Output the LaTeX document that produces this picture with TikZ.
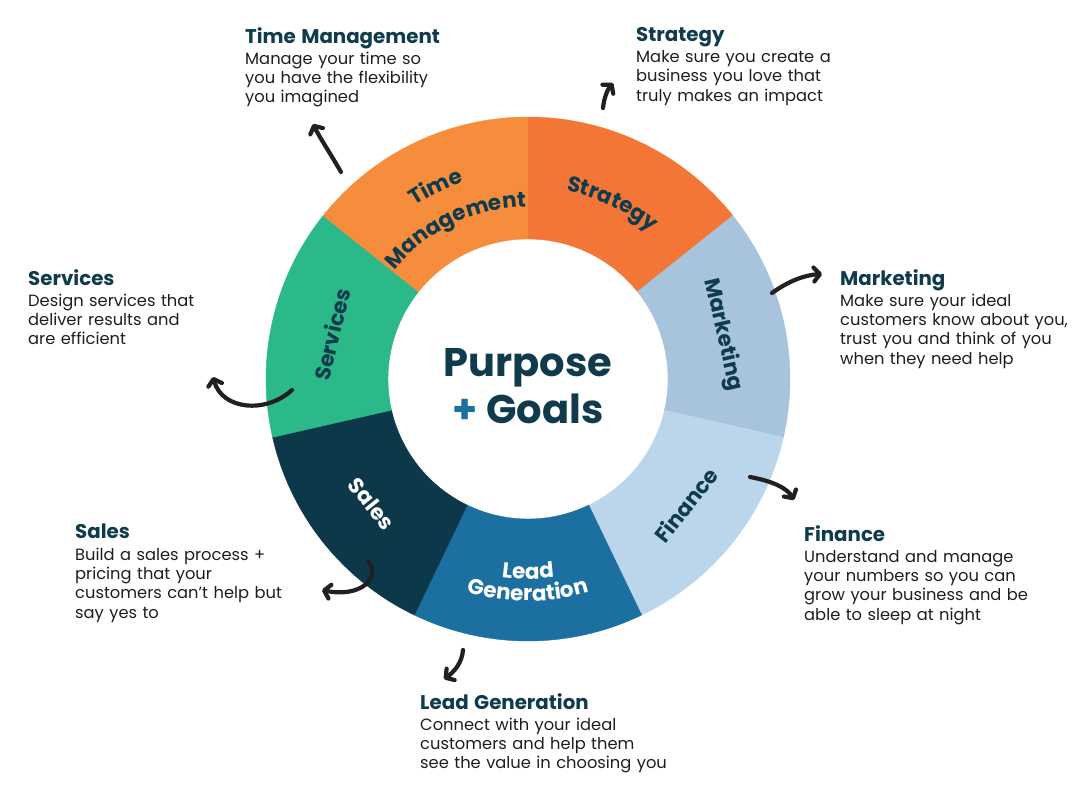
\documentclass[tikz,border=0pt]{standalone}
\usepackage{fontspec}
\setmainfont{Poppins}
\usetikzlibrary{arrows.meta,decorations.text,positioning}

\definecolor{navy}{HTML}{0F3B4C}
\definecolor{textblack}{HTML}{1E1E1E}
\definecolor{arrowblack}{HTML}{231F20}
\definecolor{stratC}{HTML}{F37636}
\definecolor{timeC}{HTML}{F68D3C}
\definecolor{mktC}{HTML}{A8C4DD}
\definecolor{finC}{HTML}{BBD6EB}
\definecolor{leadC}{HTML}{1B70A1}
\definecolor{salesC}{HTML}{0D3849}
\definecolor{servC}{HTML}{2BB98A}

\newcommand{\headfont}{\fontsize{19.8}{20}\selectfont\bfseries\color{navy}}
\newcommand{\segfont}{\fontsize{21.5}{22}\selectfont\bfseries}

\begin{document}
\begin{tikzpicture}[x=1pt,y=1pt,
    info/.style={anchor=north west, inner sep=0pt, text width=300pt, align=left,
        font=\fontsize{16.3}{19.3}\selectfont, text=textblack},
    seglabel/.style={font=\segfont, inner sep=0pt},
    hand/.style={line width=4.2pt, line cap=round, arrowblack,
        -{Straight Barb[round,length=6pt,width=14pt]}}]
    \useasboundingbox (0,0) rectangle (1091,790);

    % Ring of seven segments, clockwise from the top
    \begin{scope}[shift={(528,411)}]
    \foreach \col [count=\i from 0] in {stratC,mktC,finC,leadC,salesC,servC,timeC}
        \fill[\col, draw=\col, line width=0.4pt]
            ({90-51.4286*\i}:262pt) arc[start angle={90-51.4286*\i}, delta angle=-51.4286, radius=262pt]
            -- ({90-51.4286*(\i+1)}:140pt) arc[start angle={90-51.4286*(\i+1)}, delta angle=51.4286, radius=140pt]
            -- cycle;

    % Curved segment labels
    \path[decorate, decoration={text along path, text align=center,
        text={|\segfont\color{navy}|Strategy}}]
        (90:192pt) arc[start angle=90, end angle=38.57, radius=192pt];
    \path[decorate, decoration={text along path, text align=center,
        text={|\segfont\color{navy}|Time}}]
        (141.43:207pt) arc[start angle=141.43, end angle=90, radius=207pt];
    \path[decorate, decoration={text along path, text align=center,
        text={|\segfont\color{navy}|Management}}]
        (141.43:172pt) arc[start angle=141.43, end angle=90, radius=172pt];
    \path[decorate, decoration={text along path, text align=center,
        text={|\segfont\color{white}|Lead}}]
        (-115.71:200pt) arc[start angle=-115.71, end angle=-64.29, radius=200pt];
    \path[decorate, decoration={text along path, text align=center,
        text={|\segfont\color{white}|Generation}}]
        (-115.71:222pt) arc[start angle=-115.71, end angle=-64.29, radius=222pt];

    % Rotated segment labels
    \node[seglabel, text=navy, rotate=-77.14] (mktL) at (12.86:200pt) {Marketing};
    \node[seglabel, text=navy, rotate=51.43] (finL) at (-38.57:202pt) {Finance};
    \node[seglabel, text=white, rotate=-51.43] (salesL) at (-141.43:200pt) {Sales};
    \node[seglabel, text=navy, rotate=77.14] (servL) at (167.14:201pt) {Services};
    \end{scope}

    % Centre
    \node[align=center, text=navy, inner sep=0pt,
        font=\fontsize{40}{47}\selectfont\bfseries] (core) at (528,404)
        {Purpose\\{\color{leadC}+} Goals};

    % Descriptions
    \node[info] (tmInfo) at (245,763) {{\headfont Time Management}\\[2pt]
        Manage your time so\\you have the flexibility\\you imagined};
    \node[info] (stratInfo) at (636,763) {{\headfont Strategy}\\[2pt]
        Make sure you create a\\business you love that\\truly makes an impact};
    \node[info] (mktInfo) at (840,521) {{\headfont Marketing}\\[2pt]
        Make sure your ideal\\customers know about you,\\trust you and think of you\\when they need help};
    \node[info] (servInfo) at (28,521) {{\headfont Services}\\[2pt]
        Design services that\\deliver results and\\are efficient};
    \node[info] (salesInfo) at (75,266) {{\headfont Sales}\\[2pt]
        Build a sales process +\\pricing that your\\customers can’t help but\\say yes to};
    \node[info] (finInfo) at (804,265) {{\headfont Finance}\\[2pt]
        Understand and manage\\your numbers so you can\\grow your business and be\\able to sleep at night};
    \node[info] (leadInfo) at (420,97) {{\headfont Lead Generation}\\[2pt]
        Connect with your ideal\\customers and help them\\see the value in choosing you};

    % Hand-drawn arrows
    \coordinate (tmS) at (341,618);  \coordinate (tmE) at (313,666);
    \coordinate (stS) at (603,682);  \coordinate (stE) at (613,707);
    \coordinate (mkS) at (772,497);  \coordinate (mkE) at (822,516);
    \coordinate (fiS) at (750,313);  \coordinate (fiE) at (794,290);
    \coordinate (leS) at (463,140);  \coordinate (leE) at (444,111);
    \coordinate (saS) at (368,229);  \coordinate (saE) at (322,200);
    \coordinate (seS) at (292,400);  \coordinate (seE) at (213,413);
    \draw[hand] (tmS) .. controls (330,637) and (320,652) .. (tmE);
    \draw[hand] (stS) .. controls (604,693) and (608,701) .. (stE);
    \draw[hand] (mkS) .. controls (790,510) and (806,515) .. (mkE);
    \draw[hand] (fiS) .. controls (772,309) and (787,302) .. (fiE);
    \draw[hand] (leS) .. controls (462,127) and (454,118) .. (leE);
    \draw[hand] (saS) .. controls (382,212) and (360,192) .. (saE);
    \draw[hand] (seS) .. controls (266,376) and (222,380) .. (seE);
\end{tikzpicture}
\end{document}
